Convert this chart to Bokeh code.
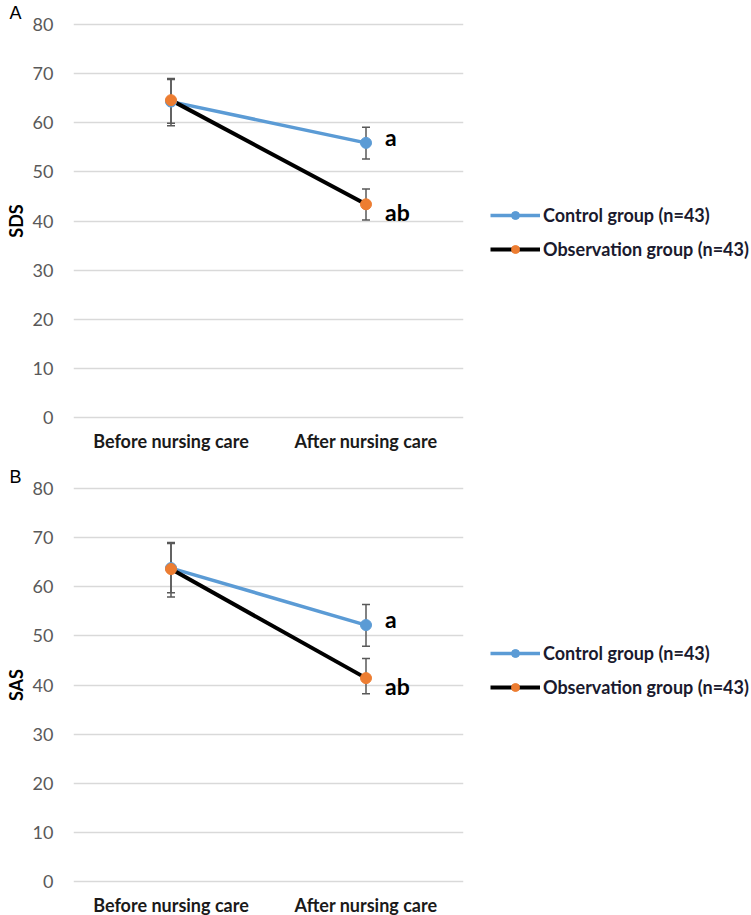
from bokeh.plotting import figure
from bokeh.layouts import column
from bokeh.models import (ColumnDataSource, Whisker, TeeHead, Legend, LegendItem,
                          Range1d, FactorRange, FixedTicker)
from bokeh.core.properties import value
from bokeh.embed import file_html
from bokeh.resources import INLINE

# ---------------- data ----------------
categories = ["Before nursing care", "After nursing care"]
y_ticks = [0, 10, 20, 30, 40, 50, 60, 70, 80]
group_labels = ["Control group (n=43)", "Observation group (n=43)"]
sig_ctrl = "a"
sig_obs = "ab"

sds_ctrl = [64.3, 55.9]
sds_ctrl_up = [69.0, 59.1]
sds_ctrl_lo = [59.4, 52.6]
sds_obs = [64.6, 43.4]
sds_obs_up = [68.8, 46.5]
sds_obs_lo = [59.9, 40.2]

sas_ctrl = [63.8, 52.2]
sas_ctrl_up = [69.0, 56.4]
sas_ctrl_lo = [57.9, 47.9]
sas_obs = [63.6, 41.4]
sas_obs_up = [68.8, 45.4]
sas_obs_lo = [58.8, 38.2]

BLUE = "#5B9BD5"
ORANGE = "#ED7D31"
GRID = "#D9D9D9"
TICK = "#595959"
ERR = "#595959"
FONT = "Lato"


def make_panel(letter, ylabel, ctrl, ctrl_up, ctrl_lo, obs, obs_up, obs_lo,
               border_top, border_bottom, legend_y):
    p = figure(x_range=FactorRange(*categories), y_range=Range1d(-0.4, 80.4),
               frame_width=390, frame_height=397,
               min_border_left=73, min_border_right=287,
               min_border_top=border_top, min_border_bottom=border_bottom,
               output_backend="svg", toolbar_location=None,
               background_fill_color="white", border_fill_color="white",
               outline_line_color=None, title=letter, title_location="above")
    p.title.align = "left"
    p.title.offset = -64
    p.title.standoff = 0
    p.title.text_font = "Liberation Sans"
    p.title.text_font_style = "normal"
    p.title.text_font_size = "18px"
    p.title.text_color = "#000000"

    p.x_range.range_padding = 0
    p.xgrid.grid_line_color = None
    p.ygrid.grid_line_color = GRID
    p.ygrid.grid_line_width = 1.5
    p.yaxis.ticker = FixedTicker(ticks=y_ticks)

    for ax in (p.xaxis, p.yaxis):
        ax.axis_line_color = None
        ax.major_tick_line_color = None
        ax.minor_tick_line_color = None
        ax.major_label_text_font = FONT
    p.yaxis.major_label_text_font_size = "18px"
    p.yaxis.major_label_text_color = TICK
    p.yaxis.major_label_standoff = 14
    p.yaxis.axis_label = ylabel
    p.yaxis.axis_label_text_font = FONT
    p.yaxis.axis_label_text_font_style = "bold"
    p.yaxis.axis_label_text_font_size = "18px"
    p.yaxis.axis_label_text_color = "#000000"
    p.yaxis.axis_label_standoff = 3
    p.xaxis.major_label_text_font_size = "18px"
    p.xaxis.major_label_text_font_style = "bold"
    p.xaxis.major_label_text_color = "#1a1a1a"
    p.xaxis.major_label_standoff = 4

    src_c = ColumnDataSource(dict(x=categories, y=ctrl, up=ctrl_up, lo=ctrl_lo,
                                  t=["", sig_ctrl]))
    src_o = ColumnDataSource(dict(x=categories, y=obs, up=obs_up, lo=obs_lo,
                                  t=["", sig_obs]))

    for src in (src_c, src_o):
        w = Whisker(base="x", upper="up", lower="lo", source=src,
                    line_color=ERR, line_width=1.5,
                    upper_head=TeeHead(size=8, line_color=ERR, line_width=1.5),
                    lower_head=TeeHead(size=8, line_color=ERR, line_width=1.5))
        p.add_layout(w)

    lc = p.line("x", "y", source=src_c, line_color=BLUE, line_width=3.5)
    lo_ = p.line("x", "y", source=src_o, line_color="#000000", line_width=4)
    sc = p.scatter("x", "y", source=src_c, size=11, fill_color=BLUE, line_color=BLUE)
    so = p.scatter("x", "y", source=src_o, size=11, fill_color=ORANGE, line_color=ORANGE)

    p.text("x", "y", text="t", source=src_c, x_offset=19, y_offset=-6,
           text_font=value(FONT), text_font_style="bold", text_font_size="23px",
           text_color="#000000", text_baseline="middle", text_align="left")
    p.text("x", "y", text="t", source=src_o, x_offset=19, y_offset=8,
           text_font=value(FONT), text_font_style="bold", text_font_size="23px",
           text_color="#000000", text_baseline="middle", text_align="left")

    legend = Legend(items=[LegendItem(label=group_labels[0], renderers=[lc, sc]),
                           LegendItem(label=group_labels[1], renderers=[lo_, so])],
                    location=(27, legend_y), margin=0, padding=0,
                    glyph_width=50, glyph_height=20, label_height=20,
                    label_standoff=3, spacing=12,
                    border_line_color=None, background_fill_alpha=0,
                    label_text_font=FONT, label_text_font_style="bold",
                    label_text_font_size="18px", label_text_color="#1a1a2e")
    p.add_layout(legend, "right")
    return p


pa = make_panel("A", "SDS", sds_ctrl, sds_ctrl_up, sds_ctrl_lo,
                sds_obs, sds_obs_up, sds_obs_lo,
                20, 36, 159)
pb = make_panel("B", "SAS", sas_ctrl, sas_ctrl_up, sas_ctrl_lo,
                sas_obs, sas_obs_up, sas_obs_lo,
                31, 32, 185)

layout = column(pa, pb, spacing=0)
open("out.html", "w").write(file_html(layout, INLINE))
